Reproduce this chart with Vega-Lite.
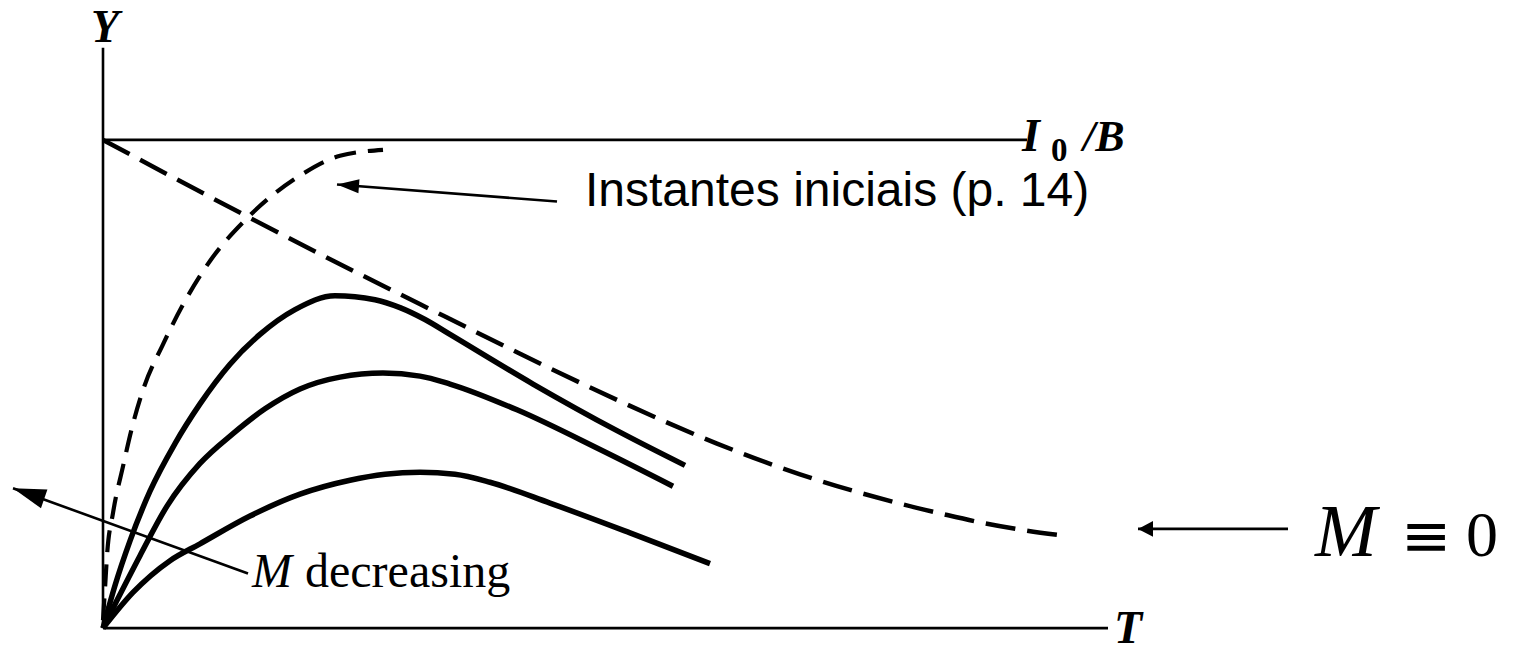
{
  "$schema": "https://vega.github.io/schema/vega-lite/v6.json",
  "width": 1516,
  "height": 652,
  "autosize": {"type": "fit", "contains": "padding"},
  "padding": 0,
  "background": "white",
  "config": {"view": {"stroke": null}},
  "datasets": {
    "frame": [
      {"part": "Y axis", "T0": 0, "Y0": 0, "T1": 0, "Y1": 5.85},
      {"part": "T axis", "T0": 0, "Y0": 0, "T1": 10.05, "Y1": 0},
      {"part": "I0/B level", "T0": 0, "Y0": 4.92, "T1": 9.24, "Y1": 4.92}
    ],
    "solutions": [
      {"series": "M1", "T": 0, "Y": 0},
      {"series": "M1", "T": 0.12, "Y": 0.43},
      {"series": "M1", "T": 0.27, "Y": 0.88},
      {"series": "M1", "T": 0.47, "Y": 1.38},
      {"series": "M1", "T": 0.72, "Y": 1.86},
      {"series": "M1", "T": 0.97, "Y": 2.26},
      {"series": "M1", "T": 1.27, "Y": 2.66},
      {"series": "M1", "T": 1.57, "Y": 2.96},
      {"series": "M1", "T": 1.92, "Y": 3.21},
      {"series": "M1", "T": 2.32, "Y": 3.35},
      {"series": "M1", "T": 2.72, "Y": 3.31},
      {"series": "M1", "T": 2.97, "Y": 3.23},
      {"series": "M1", "T": 3.22, "Y": 3.11},
      {"series": "M1", "T": 3.47, "Y": 2.96},
      {"series": "M1", "T": 4.3, "Y": 2.46},
      {"series": "M1", "T": 5.14, "Y": 1.99},
      {"series": "M1", "T": 5.82, "Y": 1.64},
      {"series": "M2", "T": 0, "Y": 0},
      {"series": "M2", "T": 0.14, "Y": 0.28},
      {"series": "M2", "T": 0.37, "Y": 0.73},
      {"series": "M2", "T": 0.64, "Y": 1.23},
      {"series": "M2", "T": 0.97, "Y": 1.66},
      {"series": "M2", "T": 1.3, "Y": 1.96},
      {"series": "M2", "T": 1.62, "Y": 2.21},
      {"series": "M2", "T": 1.97, "Y": 2.41},
      {"series": "M2", "T": 2.37, "Y": 2.53},
      {"series": "M2", "T": 2.8, "Y": 2.57},
      {"series": "M2", "T": 3.17, "Y": 2.54},
      {"series": "M2", "T": 3.47, "Y": 2.46},
      {"series": "M2", "T": 4.14, "Y": 2.2},
      {"series": "M2", "T": 4.97, "Y": 1.8},
      {"series": "M2", "T": 5.7, "Y": 1.43},
      {"series": "M3", "T": 0, "Y": 0},
      {"series": "M3", "T": 0.3, "Y": 0.36},
      {"series": "M3", "T": 0.67, "Y": 0.68},
      {"series": "M3", "T": 0.97, "Y": 0.85},
      {"series": "M3", "T": 1.47, "Y": 1.13},
      {"series": "M3", "T": 1.97, "Y": 1.35},
      {"series": "M3", "T": 2.47, "Y": 1.49},
      {"series": "M3", "T": 2.82, "Y": 1.55},
      {"series": "M3", "T": 3.17, "Y": 1.57},
      {"series": "M3", "T": 3.52, "Y": 1.55},
      {"series": "M3", "T": 3.87, "Y": 1.47},
      {"series": "M3", "T": 4.47, "Y": 1.26},
      {"series": "M3", "T": 5.27, "Y": 0.96},
      {"series": "M3", "T": 6.07, "Y": 0.65}
    ],
    "mZero": [
      {"T": 0, "Y": 4.92},
      {"T": 1.44, "Y": 4.15},
      {"T": 2.7, "Y": 3.5},
      {"T": 3.4, "Y": 3.15},
      {"T": 4.14, "Y": 2.78},
      {"T": 5.14, "Y": 2.3},
      {"T": 6.14, "Y": 1.86},
      {"T": 6.97, "Y": 1.55},
      {"T": 7.99, "Y": 1.25},
      {"T": 8.4, "Y": 1.15},
      {"T": 8.8, "Y": 1.06},
      {"T": 9.19, "Y": 0.99},
      {"T": 9.62, "Y": 0.93}
    ],
    "initial": [
      {"T": 0, "Y": 0.08},
      {"T": 0.02, "Y": 0.4},
      {"T": 0.04, "Y": 0.73},
      {"T": 0.1, "Y": 1.16},
      {"T": 0.2, "Y": 1.63},
      {"T": 0.3, "Y": 2.06},
      {"T": 0.4, "Y": 2.4},
      {"T": 0.6, "Y": 2.86},
      {"T": 0.8, "Y": 3.26},
      {"T": 1.07, "Y": 3.7},
      {"T": 1.44, "Y": 4.13},
      {"T": 1.97, "Y": 4.56},
      {"T": 2.37, "Y": 4.76},
      {"T": 2.8, "Y": 4.82}
    ],
    "arrows": [
      {"arrow": "M decreasing", "T0": 1.45, "Y0": 0.55, "T1": -0.9, "Y1": 1.41},
      {"arrow": "Instantes iniciais", "T0": 4.54, "Y0": 4.3, "T1": 2.34, "Y1": 4.47},
      {"arrow": "M zero", "T0": 11.85, "Y0": 1.0, "T1": 10.35, "Y1": 1.0}
    ],
    "symbols": [
      {"label": "Y", "T": 0.02, "Y": 5.91, "a": "center"},
      {"label": "T", "T": 10.25, "Y": -0.15, "a": "left"},
      {"label": "I", "T": 9.28, "Y": 4.81, "a": "left"}
    ]
  },
  "layer": [
    {
      "data": {"name": "frame"},
      "mark": {"type": "rule", "color": "black", "strokeWidth": 2.6},
      "encoding": {
        "x": {"field": "T0", "type": "quantitative", "scale": {"domain": [-1.03, 14.13], "nice": false, "zero": false}, "axis": null},
        "x2": {"field": "T1"},
        "y": {"field": "Y0", "type": "quantitative", "scale": {"domain": [-0.19, 6.33], "nice": false, "zero": false}, "axis": null},
        "y2": {"field": "Y1"}
      }
    },
    {
      "data": {"name": "mZero"},
      "mark": {"type": "line", "color": "black", "strokeWidth": 4.5, "strokeDash": [30, 12], "interpolate": "monotone", "strokeCap": "butt"},
      "encoding": {
        "x": {"field": "T", "type": "quantitative", "scale": {"domain": [-1.03, 14.13], "nice": false, "zero": false}, "axis": null},
        "y": {"field": "Y", "type": "quantitative", "scale": {"domain": [-0.19, 6.33], "nice": false, "zero": false}, "axis": null}
      }
    },
    {
      "data": {"name": "initial"},
      "mark": {"type": "line", "color": "black", "strokeWidth": 4.2, "strokeDash": [22, 12], "interpolate": "monotone", "strokeCap": "butt"},
      "encoding": {
        "x": {"field": "T", "type": "quantitative", "scale": {"domain": [-1.03, 14.13], "nice": false, "zero": false}, "axis": null},
        "y": {"field": "Y", "type": "quantitative", "scale": {"domain": [-0.19, 6.33], "nice": false, "zero": false}, "axis": null}
      }
    },
    {
      "data": {"name": "solutions"},
      "mark": {"type": "line", "color": "black", "strokeWidth": 5.5, "interpolate": "monotone", "strokeCap": "butt"},
      "encoding": {
        "x": {"field": "T", "type": "quantitative", "scale": {"domain": [-1.03, 14.13], "nice": false, "zero": false}, "axis": null},
        "y": {"field": "Y", "type": "quantitative", "scale": {"domain": [-0.19, 6.33], "nice": false, "zero": false}, "axis": null},
        "detail": {"field": "series"}
      }
    },
    {
      "data": {"name": "arrows"},
      "mark": {"type": "rule", "color": "black", "strokeWidth": 2.6},
      "encoding": {
        "x": {"field": "T0", "type": "quantitative", "scale": {"domain": [-1.03, 14.13], "nice": false, "zero": false}, "axis": null},
        "x2": {"field": "T1"},
        "y": {"field": "Y0", "type": "quantitative", "scale": {"domain": [-0.19, 6.33], "nice": false, "zero": false}, "axis": null},
        "y2": {"field": "Y1"}
      }
    },
    {
      "data": {"name": "arrows"},
      "transform": [{"filter": "datum.arrow === 'M decreasing'"}],
      "mark": {"type": "point", "shape": "M0,0L0.3,1L-0.3,1Z", "size": 4356, "angle": 289, "filled": true, "color": "black", "opacity": 1, "strokeWidth": 0},
      "encoding": {
        "x": {"field": "T1", "type": "quantitative", "scale": {"domain": [-1.03, 14.13], "nice": false, "zero": false}, "axis": null},
        "y": {"field": "Y1", "type": "quantitative", "scale": {"domain": [-0.19, 6.33], "nice": false, "zero": false}, "axis": null}
      }
    },
    {
      "data": {"name": "arrows"},
      "transform": [{"filter": "datum.arrow === 'Instantes iniciais'"}],
      "mark": {"type": "point", "shape": "M0,0L0.32,1L-0.32,1Z", "size": 1936, "angle": 274.4, "filled": true, "color": "black", "opacity": 1, "strokeWidth": 0},
      "encoding": {
        "x": {"field": "T1", "type": "quantitative", "scale": {"domain": [-1.03, 14.13], "nice": false, "zero": false}, "axis": null},
        "y": {"field": "Y1", "type": "quantitative", "scale": {"domain": [-0.19, 6.33], "nice": false, "zero": false}, "axis": null}
      }
    },
    {
      "data": {"name": "arrows"},
      "transform": [{"filter": "datum.arrow === 'M zero'"}],
      "mark": {"type": "point", "shape": "M0,0L0.53,1L-0.53,1Z", "size": 900, "angle": 270, "filled": true, "color": "black", "opacity": 1, "strokeWidth": 0},
      "encoding": {
        "x": {"field": "T1", "type": "quantitative", "scale": {"domain": [-1.03, 14.13], "nice": false, "zero": false}, "axis": null},
        "y": {"field": "Y1", "type": "quantitative", "scale": {"domain": [-0.19, 6.33], "nice": false, "zero": false}, "axis": null}
      }
    },
    {
      "data": {"name": "symbols"},
      "mark": {"type": "text", "font": "Liberation Serif", "fontStyle": "italic", "fontWeight": "bold", "fontSize": 46, "baseline": "alphabetic", "color": "black"},
      "encoding": {
        "x": {"field": "T", "type": "quantitative", "scale": {"domain": [-1.03, 14.13], "nice": false, "zero": false}, "axis": null},
        "y": {"field": "Y", "type": "quantitative", "scale": {"domain": [-0.19, 6.33], "nice": false, "zero": false}, "axis": null},
        "text": {"field": "label"},
        "align": {"field": "a", "type": "nominal", "scale": null}
      }
    },
    {
      "data": {"values": [{"label": "/B", "T": 9.8, "Y": 4.81}]},
      "mark": {"type": "text", "font": "Liberation Serif", "fontStyle": "italic", "fontWeight": "bold", "fontSize": 44, "align": "left", "baseline": "alphabetic", "color": "black"},
      "encoding": {
        "x": {"field": "T", "type": "quantitative", "scale": {"domain": [-1.03, 14.13], "nice": false, "zero": false}, "axis": null},
        "y": {"field": "Y", "type": "quantitative", "scale": {"domain": [-0.19, 6.33], "nice": false, "zero": false}, "axis": null},
        "text": {"field": "label"}
      }
    },
    {
      "data": {"values": [{"label": "0", "T": 9.48, "Y": 4.71}]},
      "mark": {"type": "text", "font": "Liberation Serif", "fontSize": 33, "fontWeight": "bold", "align": "left", "baseline": "alphabetic", "color": "black"},
      "encoding": {
        "x": {"field": "T", "type": "quantitative", "scale": {"domain": [-1.03, 14.13], "nice": false, "zero": false}, "axis": null},
        "y": {"field": "Y", "type": "quantitative", "scale": {"domain": [-0.19, 6.33], "nice": false, "zero": false}, "axis": null},
        "text": {"field": "label"}
      }
    },
    {
      "data": {"values": [{"label": "M", "T": 1.49, "Y": 0.41}]},
      "mark": {"type": "text", "font": "Liberation Serif", "fontStyle": "italic", "fontSize": 48, "align": "left", "baseline": "alphabetic", "color": "black"},
      "encoding": {
        "x": {"field": "T", "type": "quantitative", "scale": {"domain": [-1.03, 14.13], "nice": false, "zero": false}, "axis": null},
        "y": {"field": "Y", "type": "quantitative", "scale": {"domain": [-0.19, 6.33], "nice": false, "zero": false}, "axis": null},
        "text": {"field": "label"}
      }
    },
    {
      "data": {"values": [{"label": "decreasing", "T": 2.02, "Y": 0.41}]},
      "mark": {"type": "text", "font": "Liberation Serif", "fontSize": 48, "align": "left", "baseline": "alphabetic", "color": "black"},
      "encoding": {
        "x": {"field": "T", "type": "quantitative", "scale": {"domain": [-1.03, 14.13], "nice": false, "zero": false}, "axis": null},
        "y": {"field": "Y", "type": "quantitative", "scale": {"domain": [-0.19, 6.33], "nice": false, "zero": false}, "axis": null},
        "text": {"field": "label"}
      }
    },
    {
      "data": {"values": [{"label": "Instantes iniciais (p. 14)", "T": 4.82, "Y": 4.25}]},
      "mark": {"type": "text", "font": "Liberation Sans", "fontSize": 48, "align": "left", "baseline": "alphabetic", "color": "black"},
      "encoding": {
        "x": {"field": "T", "type": "quantitative", "scale": {"domain": [-1.03, 14.13], "nice": false, "zero": false}, "axis": null},
        "y": {"field": "Y", "type": "quantitative", "scale": {"domain": [-0.19, 6.33], "nice": false, "zero": false}, "axis": null},
        "text": {"field": "label"}
      }
    },
    {
      "data": {"values": [{"label": "M", "T": 12.12, "Y": 0.73}]},
      "mark": {"type": "text", "font": "Liberation Serif", "fontStyle": "italic", "fontSize": 74, "align": "left", "baseline": "alphabetic", "color": "black"},
      "encoding": {
        "x": {"field": "T", "type": "quantitative", "scale": {"domain": [-1.03, 14.13], "nice": false, "zero": false}, "axis": null},
        "y": {"field": "Y", "type": "quantitative", "scale": {"domain": [-0.19, 6.33], "nice": false, "zero": false}, "axis": null},
        "text": {"field": "label"}
      }
    },
    {
      "data": {"values": [{"label": "≡", "T": 12.98, "Y": 0.73}]},
      "mark": {"type": "text", "font": "DejaVu Sans", "fontSize": 60, "align": "left", "baseline": "alphabetic", "color": "black"},
      "encoding": {
        "x": {"field": "T", "type": "quantitative", "scale": {"domain": [-1.03, 14.13], "nice": false, "zero": false}, "axis": null},
        "y": {"field": "Y", "type": "quantitative", "scale": {"domain": [-0.19, 6.33], "nice": false, "zero": false}, "axis": null},
        "text": {"field": "label"}
      }
    },
    {
      "data": {"values": [{"label": "0", "T": 13.63, "Y": 0.73}]},
      "mark": {"type": "text", "font": "Liberation Serif", "fontSize": 64, "align": "left", "baseline": "alphabetic", "color": "black"},
      "encoding": {
        "x": {"field": "T", "type": "quantitative", "scale": {"domain": [-1.03, 14.13], "nice": false, "zero": false}, "axis": null},
        "y": {"field": "Y", "type": "quantitative", "scale": {"domain": [-0.19, 6.33], "nice": false, "zero": false}, "axis": null},
        "text": {"field": "label"}
      }
    }
  ]
}
